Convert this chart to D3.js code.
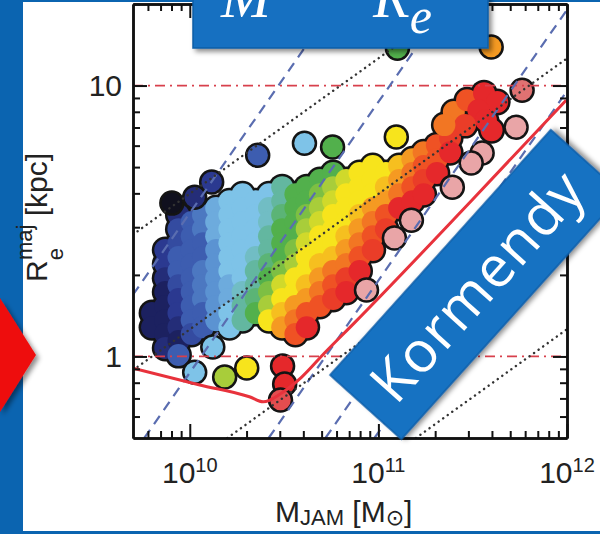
<!DOCTYPE html>
<html>
<head>
<meta charset="utf-8">
<script src="https://cdn.jsdelivr.net/npm/d3@7"></script>
<style>
  body { margin: 0; background: #0b64b0; }
  svg { display: block; }
</style>
</head>
<body>
<svg width="600" height="534"></svg>
<script>
// ---- data ----
const massMajor = [1e10, 1e11, 1e12];
const massExp = ["10", "11", "12"];
const massMinor = [6e9, 7e9, 8e9, 9e9, 2e10, 3e10, 4e10, 5e10, 6e10, 7e10, 8e10, 9e10,
                   2e11, 3e11, 4e11, 5e11, 6e11, 7e11, 8e11, 9e11];
const reMajor = [1, 10];
const reMinor = [0.6, 0.7, 0.8, 0.9, 2, 3, 4, 5, 6, 7, 8, 9, 20];
const reLevels = [1, 10];

// sauron-like colour table, index 0..14
const palette = ["#10101e", "#1c2160", "#2b3990", "#3d5db0", "#5b93d2", "#7ec3e8", "#63b7a0",
                 "#52b04c", "#a8cd3a", "#f7e41c", "#f59a22", "#ef5224", "#e5282b", "#e07272", "#e9a5a7"];

// crowded galaxies: [log M_JAM, log Re_maj, colour index]
const blobGalaxies = [
  [9.80,0.160,1],[9.80,0.108,1],
  [9.87,0.393,2],[9.87,0.341,2],[9.87,0.289,1.5],[9.87,0.238,1],[9.87,0.186,1],[9.87,0.134,1],[9.87,0.083,1],[9.87,0.031,1.5],
  [9.94,0.522,1.5],[9.94,0.470,2.5],[9.94,0.418,2.5],[9.94,0.367,3],[9.94,0.315,3],[9.94,0.263,2.5],[9.94,0.212,2],[9.94,0.160,2],[9.94,0.108,1.5],[9.94,0.057,1],[9.94,0.005,3],
  [10.01,0.496,3],[10.01,0.444,3],[10.01,0.393,3],[10.01,0.341,3],[10.01,0.289,3],[10.01,0.238,3],[10.01,0.186,3],[10.01,0.134,3],[10.01,0.083,2.5],
  [10.07,0.522,3.5],[10.07,0.470,3.5],[10.07,0.418,3],[10.07,0.367,3],[10.07,0.315,3.5],[10.07,0.263,3.5],[10.07,0.212,3.5],[10.07,0.160,3],[10.07,0.108,3],
  [10.14,0.548,4.5],[10.14,0.496,4.5],[10.14,0.444,4.5],[10.14,0.393,4],[10.14,0.341,4],[10.14,0.289,4],[10.14,0.238,4],[10.14,0.186,4],[10.14,0.134,4],
  [10.21,0.573,5],[10.21,0.522,5],[10.21,0.470,5],[10.21,0.418,5],[10.21,0.367,5],[10.21,0.315,5],[10.21,0.263,4.5],[10.21,0.212,4.5],[10.21,0.160,5],[10.21,0.108,5],
  [10.28,0.599,5],[10.28,0.548,5],[10.28,0.496,5],[10.28,0.444,5],[10.28,0.393,5],[10.28,0.341,5],[10.28,0.289,5],[10.28,0.238,5.5],[10.28,0.186,6],[10.28,0.134,6],
  [10.35,0.573,5],[10.35,0.522,5],[10.35,0.470,5],[10.35,0.418,5],[10.35,0.367,5.5],[10.35,0.315,6],[10.35,0.263,6],[10.35,0.212,6.5],[10.35,0.160,7],
  [10.42,0.599,5],[10.42,0.548,5.5],[10.42,0.496,5.5],[10.42,0.444,6],[10.42,0.393,6],[10.42,0.341,6.5],[10.42,0.289,7],[10.42,0.238,7.5],[10.42,0.186,8],[10.42,0.134,9],
  [10.49,0.625,6],[10.49,0.573,6],[10.49,0.522,6.5],[10.49,0.470,7],[10.49,0.418,7],[10.49,0.367,7],[10.49,0.315,7.5],[10.49,0.263,8.5],[10.49,0.212,9],[10.49,0.160,9.5],[10.49,0.108,10],
  [10.56,0.599,7],[10.56,0.548,7],[10.56,0.496,7],[10.56,0.444,7],[10.56,0.393,7.5],[10.56,0.341,8],[10.56,0.289,9],[10.56,0.238,9],[10.56,0.186,10],[10.56,0.134,10.5],[10.56,0.083,11],
  [10.62,0.625,7],[10.62,0.573,7],[10.62,0.522,7.5],[10.62,0.470,8],[10.62,0.418,8.5],[10.62,0.367,9],[10.62,0.315,9],[10.62,0.263,9.5],[10.62,0.212,10],[10.62,0.160,11],[10.62,0.108,12],
  [10.69,0.651,7],[10.69,0.599,7.5],[10.69,0.548,8],[10.69,0.496,8.5],[10.69,0.444,9],[10.69,0.393,9],[10.69,0.341,9.5],[10.69,0.289,10],[10.69,0.238,10.5],[10.69,0.186,11],
  [10.76,0.677,7],[10.76,0.625,8],[10.76,0.573,8.5],[10.76,0.522,9],[10.76,0.470,9],[10.76,0.418,9],[10.76,0.367,9.5],[10.76,0.315,10.5],[10.76,0.263,11],[10.76,0.212,11.5],
  [10.83,0.651,8.5],[10.83,0.599,9],[10.83,0.548,9],[10.83,0.496,9],[10.83,0.444,9.5],[10.83,0.393,10],[10.83,0.341,10.5],[10.83,0.289,11.5],[10.83,0.238,12],
  [10.90,0.677,9],[10.90,0.625,9],[10.90,0.573,9],[10.90,0.522,9.5],[10.90,0.470,10],[10.90,0.418,10.5],[10.90,0.367,11],[10.90,0.315,12],
  [10.97,0.703,9],[10.97,0.651,9],[10.97,0.599,9],[10.97,0.548,10],[10.97,0.496,10.5],[10.97,0.444,11],[10.97,0.393,11.5],
  [11.04,0.677,9],[11.04,0.625,9.5],[11.04,0.573,10],[11.04,0.522,11],[11.04,0.470,11.5],
  [11.11,0.703,9.5],[11.11,0.651,10],[11.11,0.599,10.5],[11.11,0.548,12],
  [11.18,0.728,10],[11.18,0.677,10.5],[11.18,0.625,11],[11.18,0.573,12],
  [11.24,0.754,10.5],[11.24,0.703,11],[11.24,0.651,11.5],[11.24,0.599,12],
  [11.31,0.780,11],[11.31,0.728,11],[11.31,0.677,12],
  [11.38,0.806,11.5],[11.38,0.754,12],
  [11.40,0.902,10.5],[11.47,0.946,11],[11.56,0.972,12],[11.63,0.939,12],[11.53,0.909,12],
  [11.57,0.872,12],[11.60,0.835,12],[11.46,0.854,11.5],[11.35,0.854,10.5]
];

// isolated galaxies, each drawn with its own outline
const outlierGalaxies = [
  [9.905,0.566,0],[10.026,0.588,1.5],[10.116,0.644,2],[10.360,0.743,3],[10.608,0.787,5],
  [10.757,0.773,7],[11.095,0.810,9],[11.101,1.138,7],[11.598,1.142,10],[11.762,0.983,13],
  [11.730,0.846,14],[11.550,0.751,14],[11.492,0.714,14],[11.392,0.625,14],[11.175,0.503,14],
  [11.085,0.437,14],[10.937,0.245,14],
  [10.122,0.035,5],[10.026,-0.058,5],[10.185,-0.076,8],[10.302,-0.043,9],
  [10.492,-0.035,12],[10.503,-0.102,12],[10.481,-0.161,12.5]
];

// zone of exclusion (red solid), [M, Re]
const zoeCurve = [[5e9,0.905],[1.13e10,0.785],[2.07e10,0.71],[2.45e10,0.68],[3.07e10,0.733],
                  [3.92e10,0.839],[5.18e10,1.03],[7.46e10,1.33],[3.14e11,3.78],[9.9e11,8.83]];

// constant-sigma lines (dashed), endpoints [M, Re]
const sigmaLines = [
  [[5e9,1.69],[5.9e10,20]],
  [[5.74e9,0.5],[2.3e11,20]],
  [[2.62e10,0.5],[1e12,19.05]],
  [[5.24e10,0.5],[1e12,9.55]],
  [[9.53e10,0.5],[1e12,5.25]]
];

// constant surface density lines (dotted), endpoints [M, Re]
const densityLines = [
  [[5e9,2.82],[2.52e11,20]],
  [[5e9,0.89],[1e12,12.6]],
  [[1.58e10,0.5],[1e12,3.98]],
  [[1.58e11,0.5],[1e12,1.26]]
];

// ---- drawing ----
const svg = d3.select("svg");
const width = 600, height = 534;
const plotBox = {left: 133, right: 567, top: 4, bottom: 438};
const font = "Liberation Sans, Arial, sans-serif";

const x = d3.scaleLog().domain([5e9, 1e12]).range([plotBox.left, plotBox.right]);
const y = d3.scaleLog().domain([0.5, 20]).range([plotBox.bottom, plotBox.top]);
const colour = d3.scaleLinear().domain(palette.map((c, i) => i)).range(palette);

const defs = svg.append("defs");
defs.append("clipPath").attr("id", "plotClip")
  .append("rect")
  .attr("x", plotBox.left).attr("y", plotBox.top)
  .attr("width", plotBox.right - plotBox.left).attr("height", plotBox.bottom - plotBox.top);
defs.append("filter").attr("id", "shadow").attr("x", "-20%").attr("y", "-20%").attr("width", "150%").attr("height", "150%")
  .append("feDropShadow")
  .attr("dx", 3).attr("dy", 3).attr("stdDeviation", 2.5)
  .attr("flood-color", "#000").attr("flood-opacity", 0.45);

// slide background
svg.append("rect").attr("width", width).attr("height", height).attr("fill", "#0b64b0");
svg.append("rect").attr("x", 23).attr("y", 2).attr("width", width - 23).attr("height", 529).attr("fill", "#fff");

const plot = svg.append("g").attr("clip-path", "url(#plotClip)");

// galaxies: outlines first so the crowd merges into one outlined blob
plot.append("g").selectAll("circle").data(blobGalaxies).join("circle")
  .attr("cx", d => x(10 ** d[0])).attr("cy", d => y(10 ** d[1]))
  .attr("r", 13.5).attr("fill", "#141414");
plot.append("g").selectAll("circle").data(blobGalaxies).join("circle")
  .attr("cx", d => x(10 ** d[0])).attr("cy", d => y(10 ** d[1]))
  .attr("r", 11).attr("fill", d => colour(d[2]));
plot.append("g").selectAll("circle").data(outlierGalaxies).join("circle")
  .attr("cx", d => x(10 ** d[0])).attr("cy", d => y(10 ** d[1]))
  .attr("r", 11.5).attr("fill", d => colour(d[2]))
  .attr("stroke", "#141414").attr("stroke-width", 2.5);

// guide lines
const line = d3.line().x(d => x(d[0])).y(d => y(d[1]));

plot.append("g").selectAll("line").data(reLevels).join("line")
  .attr("x1", plotBox.left).attr("x2", plotBox.right)
  .attr("y1", d => y(d)).attr("y2", d => y(d))
  .attr("stroke", "#d8404c").attr("stroke-width", 1.8)
  .attr("stroke-dasharray", "10,5,2,5");

plot.append("g").selectAll("path").data(sigmaLines).join("path")
  .attr("d", line).attr("fill", "none")
  .attr("stroke", "#5a6db0").attr("stroke-width", 2.2)
  .attr("stroke-dasharray", "10,7");

plot.append("g").selectAll("path").data(densityLines).join("path")
  .attr("d", line).attr("fill", "none")
  .attr("stroke", "#333").attr("stroke-width", 2.4)
  .attr("stroke-linecap", "round")
  .attr("stroke-dasharray", "0.1,5.5");

plot.append("path").datum(zoeCurve)
  .attr("d", d3.line().curve(d3.curveMonotoneX).x(d => x(d[0])).y(d => y(d[1])))
  .attr("fill", "none").attr("stroke", "#e8323c").attr("stroke-width", 3);

// axes (ticks inward on all four sides)
const axisStyle = g => {
  g.selectAll(".domain").attr("stroke", "#111").attr("stroke-width", 2.5);
  g.selectAll(".tick line").attr("stroke", "#111").attr("stroke-width", 2);
  g.selectAll("text").attr("fill", "#222").attr("font-family", font);
};

svg.append("g").attr("transform", `translate(0,${plotBox.bottom})`)
  .call(d3.axisBottom(x).tickValues(massMinor).tickSize(-7).tickSizeOuter(0).tickFormat(""))
  .call(axisStyle);
svg.append("g").attr("transform", `translate(0,${plotBox.bottom})`)
  .call(d3.axisBottom(x).tickValues(massMajor).tickSize(-14).tickSizeOuter(0).tickFormat(""))
  .call(axisStyle);
svg.append("g").attr("transform", `translate(0,${plotBox.top})`)
  .call(d3.axisTop(x).tickValues(massMinor).tickSize(-7).tickSizeOuter(0).tickFormat(""))
  .call(axisStyle);
svg.append("g").attr("transform", `translate(0,${plotBox.top})`)
  .call(d3.axisTop(x).tickValues(massMajor).tickSize(-14).tickSizeOuter(0).tickFormat(""))
  .call(axisStyle);

svg.append("g").attr("transform", `translate(${plotBox.left},0)`)
  .call(d3.axisLeft(y).tickValues(reMinor).tickSize(-7).tickSizeOuter(0).tickFormat(""))
  .call(axisStyle);
svg.append("g").attr("transform", `translate(${plotBox.left},0)`)
  .call(d3.axisLeft(y).tickValues(reMajor).tickSize(-14).tickSizeOuter(0).tickPadding(11).tickFormat(d => d))
  .call(axisStyle)
  .selectAll("text").attr("font-size", 30);
svg.append("g").attr("transform", `translate(${plotBox.right},0)`)
  .call(d3.axisRight(y).tickValues(reMinor).tickSize(-7).tickSizeOuter(0).tickFormat(""))
  .call(axisStyle);
svg.append("g").attr("transform", `translate(${plotBox.right},0)`)
  .call(d3.axisRight(y).tickValues(reMajor).tickSize(-14).tickSizeOuter(0).tickFormat(""))
  .call(axisStyle);

// 10^n tick labels
const xLab = svg.append("g").attr("font-family", font).attr("fill", "#222");
massMajor.forEach((m, i) => {
  const t = xLab.append("text").attr("x", x(m)).attr("y", 483).attr("text-anchor", "middle").attr("font-size", 30);
  t.append("tspan").text("10");
  t.append("tspan").attr("font-size", 20).attr("dy", -11).text(massExp[i]);
});

// axis titles
const xTitle = svg.append("text").attr("x", 275).attr("y", 522)
  .attr("font-family", font).attr("font-size", 30).attr("fill", "#222");
xTitle.append("tspan").text("M");
xTitle.append("tspan").attr("font-size", 22).attr("dy", 3).text("JAM");
xTitle.append("tspan").attr("dy", -3).text(" [M");
xTitle.append("tspan").attr("font-size", 22).attr("dy", 3).attr("font-family", "DejaVu Sans").text("\u2299");
xTitle.append("tspan").attr("dy", -3).text("]");

const yTitle = svg.append("text").attr("transform", "translate(47,282) rotate(-90)")
  .attr("font-family", font).attr("font-size", 30).attr("fill", "#222");
yTitle.append("tspan").text("R");
yTitle.append("tspan").attr("font-size", 22).attr("dy", 16).text("e");
yTitle.append("tspan").attr("font-size", 22).attr("dx", -12).attr("dy", -31).text("maj");
yTitle.append("tspan").attr("dy", 15).text(" [kpc]");

// slide overlays
svg.append("path").attr("d", "M0,298 L36,355 L0,412 Z")
  .attr("fill", "#ee1111").attr("filter", "url(#shadow)");

const topBox = svg.append("g");
topBox.append("rect").attr("x", 193).attr("y", -6).attr("width", 295).attr("height", 54)
  .attr("fill", "#1370c1").attr("stroke", "#0a5ea6").attr("stroke-width", 1.5).attr("filter", "url(#shadow)");
topBox.append("text").attr("x", 221).attr("y", 17).attr("font-family", "Liberation Serif, serif")
  .attr("font-style", "italic").attr("font-size", 60).attr("fill", "#fff").text("M");
const re = topBox.append("text").attr("x", 373).attr("y", 17).attr("font-family", "Liberation Serif, serif")
  .attr("font-style", "italic").attr("font-size", 60).attr("fill", "#fff");
re.append("tspan").text("R");
re.append("tspan").attr("font-size", 50).attr("dy", 16).text("e");

const korm = svg.append("g").attr("transform", "translate(330,375) rotate(-48)");
korm.append("rect").attr("width", 330).attr("height", 96)
  .attr("fill", "#1472c2").attr("stroke", "#0d5ea8").attr("stroke-width", 1.5).attr("filter", "url(#shadow)");
korm.append("text").attr("x", 21).attr("y", 70).attr("letter-spacing", 1.5)
  .attr("font-family", "Open Sans, sans-serif").attr("font-size", 57).attr("fill", "#fff").text("Kormendy");
</script>
</body>
</html>
